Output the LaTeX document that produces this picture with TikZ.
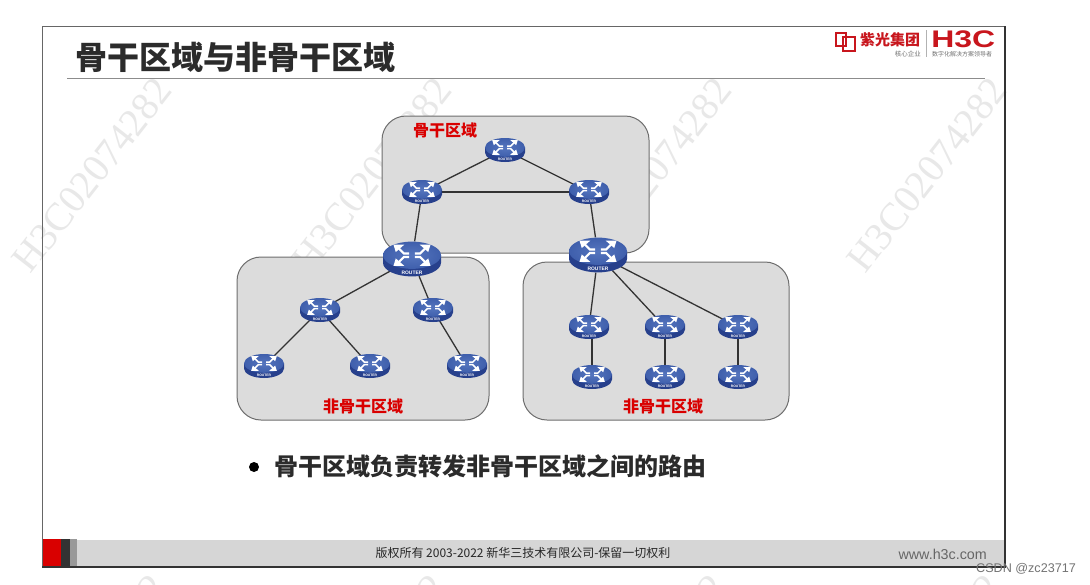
\documentclass[tikz,border=0pt]{standalone}
\usepackage{fontspec}
\setmainfont{Noto Sans CJK SC}
\newfontfamily\wmfont{Liberation Serif}
\newfontfamily\lat{Liberation Sans}
\usetikzlibrary{shapes.geometric}
\definecolor{areafill}{HTML}{DCDCDC}
\definecolor{areadraw}{HTML}{6E6E6E}
\definecolor{rtop}{HTML}{5575BE}
\definecolor{rtopd}{HTML}{3F5FAC}
\definecolor{rside}{HTML}{27408C}
\definecolor{titlecol}{HTML}{2B2B2B}
\definecolor{red1}{HTML}{C8161D}
\definecolor{wm}{HTML}{E8E8E8}
\tikzset{
  area/.style={draw=areadraw,line width=1pt,fill=areafill,rounded corners=24pt},
  link/.style={draw=black!80,line width=1.3pt},
  smallr/.style={ellipse,inner sep=0pt,minimum width=40pt,minimum height=23pt},
  bigr/.style={ellipse,inner sep=0pt,minimum width=58pt,minimum height=35pt},
  arealabel/.style={text=red!85!black,font=\fontsize{16}{16}\selectfont\bfseries,inner sep=0pt},
  wmark/.style={text=wm,font=\wmfont\fontsize{39.5}{40}\selectfont,rotate=52,inner sep=0pt},
  pics/router/.style={code={
    \pgfmathsetmacro{\rfs}{0.17*#1}
    \pgfmathsetmacro{\rlw}{0.075*#1}
    \begin{scope}[scale=#1]
      \fill[rside] (-1,-0.13) -- (-1,0.13) arc[start angle=180,end angle=0,x radius=1,y radius=0.47] -- (1,-0.13) -- cycle;
      \shade[inner color=rtop,outer color=rtopd] (0,-0.13) ellipse[x radius=1,y radius=0.47];
      \foreach \sx/\sy in {1/1,-1/1,1/-1,-1/-1}{
        \begin{scope}[shift={(0,-0.13)},xscale=\sx,yscale=\sy]
          \draw[white,line width=\rlw pt] (0.1,0.06) -- (0.28,0.06) -- (0.46,0.24);
          \fill[white] (0.64,0.37) -- (0.26,0.37) -- (0.56,0.11) -- cycle;
        \end{scope}
      }
    \end{scope}
    \node[inner sep=0pt,text=white,font=\lat\bfseries\fontsize{\rfs}{\rfs}\selectfont] at (0,0.46*#1) {ROUTER};
  }}
}
\begin{document}
\begin{tikzpicture}[x=1pt,y=-1pt]
\useasboundingbox (0,0) rectangle (1090,584);
\clip (0,0) rectangle (1090,584);
\fill[white] (0,0) rectangle (1090,584);
% watermarks
\foreach \x/\y/\n in {92/175/wa,372/175/wb,652/175/wc,927/175/wd,87/672/we,367/672/wf,647/672/wg,922/672/wh}{
  \node[wmark] (\n) at (\x,\y) {H3C02074282};
}
% slide
\fill[black!16] (42,540) rectangle (1005,566);
\fill[red!85!black] (42,539) rectangle (61,566);
\fill[black!80] (61,539) rectangle (70,566);
\fill[black!40] (70,539) rectangle (77,566);
\draw[black!60,line width=1pt] (42,567) -- (42,26) -- (1005,26);
\draw[black!80,line width=1.6pt] (42,567) -- (1005,567) -- (1005,26);
% title
\node[anchor=west,inner sep=0pt,text=titlecol,font=\fontsize{32}{32}\selectfont\bfseries] (title) at (75,57) {骨干区域与非骨干区域};
\draw[black!45,line width=1pt] (67,78) -- (985,78);
% logo
\draw[red1,line width=1.6pt] (836,33) rectangle (846,46);
\draw[red1,line width=1.6pt] (843,37) rectangle (855,51);
\node[anchor=west,inner sep=0pt,text=red1,font=\fontsize{15}{15}\selectfont\bfseries] (lg1) at (860,40) {紫光集团};
\draw[black!30] (926,30) -- (926,57);
\node[anchor=west,inner sep=0pt,text=red1,xscale=1.33,font=\lat\fontsize{24}{24}\selectfont\bfseries] (lg2) at (931,39) {H3C};
\node[anchor=east,inner sep=0pt,text=black!55,font=\fontsize{6.5}{7}\selectfont] (lg3) at (921,54) {核心企业};
\node[anchor=west,inner sep=0pt,text=black!55,font=\fontsize{6}{7}\selectfont] (lg4) at (932,54) {数字化解决方案领导者};
% areas
\path[area] (382,116) rectangle (649,253);
\path[area] (237,257) rectangle (489,420);
\path[area] (523,262) rectangle (789,420);
% routers
\foreach \n/\x/\y in {r1/505/150,r2/422/192,r3/589/192,r6/320/310,r7/433/310,r8/264/366,r9/370/366,r10/467/366,r11/589/327,r12/665/327,r13/738/327,r14/592/377,r15/665/377,r16/738/377}{
  \node[smallr] (\n) at (\x,\y) {};
}
\node[bigr] (r4) at (412,259) {};
\node[bigr] (r5) at (598,255) {};
% links
\draw[link] (r1) -- (r2);
\draw[link] (r1) -- (r3);
\draw[link] (r2) -- (r3);
\draw[link] (r2) -- (r4);
\draw[link] (r3) -- (r5);
\draw[link] (r4) -- (r6);
\draw[link] (r4) -- (r7);
\draw[link] (r6) -- (r8);
\draw[link] (r6) -- (r9);
\draw[link] (r7) -- (r10);
\draw[link] (r5) -- (r11);
\draw[link] (r5) -- (r12);
\draw[link] (r5) -- (r13);
\draw[link] (r14.north) -- (r14 |- r11.south);
\draw[link] (r12) -- (r15);
\draw[link] (r13) -- (r16);
\foreach \n in {r1,r2,r3,r6,r7,r8,r9,r10,r11,r12,r13,r14,r15,r16}{
  \pic at (\n) {router={20}};
}
\pic at (r4) {router={29}};
\pic at (r5) {router={29}};
% labels
\node[arealabel] (la) at (445,130) {骨干区域};
\node[arealabel] (lb) at (363,406) {非骨干区域};
\node[arealabel] (lc) at (663,406) {非骨干区域};
% bullet
\fill[black] (254,467) circle (5);
\node[anchor=west,inner sep=0pt,text=titlecol,font=\fontsize{24}{24}\selectfont\bfseries] (body) at (274,466) {骨干区域负责转发非骨干区域之间的路由};
% footer
\node[inner sep=0pt,text=black!85,font=\fontsize{12}{12}\selectfont] (foot) at (523,553) {版权所有 2003-2022 新华三技术有限公司-保留一切权利};
\node[anchor=east,inner sep=0pt,text=black!60,font=\lat\fontsize{14.3}{14}\selectfont] (www) at (987,554) {www.h3c.com};
\node[anchor=east,inner sep=0pt,text=black!55,font=\lat\fontsize{12.6}{13}\selectfont] (csdn) at (1076,569) {CSDN @zc23717};
\end{tikzpicture}
\end{document}
